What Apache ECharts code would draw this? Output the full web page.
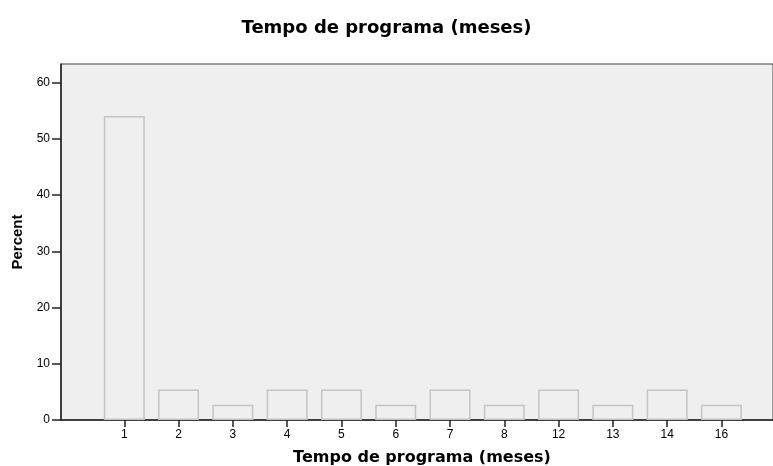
<!DOCTYPE html>
<html>
<head>
<meta charset="utf-8">
<script src="https://cdn.jsdelivr.net/npm/echarts@6/dist/echarts.min.js"></script>
<style>
  html, body { margin: 0; padding: 0; background: #fff; }
  #main { width: 773px; height: 466px; }
</style>
</head>
<body>
<div id="main"></div>
<script>
var categories = ['1', '2', '3', '4', '5', '6', '7', '8', '12', '13', '14', '16'];
var percents = [54.05, 5.41, 2.70, 5.41, 5.41, 2.70, 5.41, 2.70, 5.41, 2.70, 5.41, 2.70];
var yTicks = [0, 10, 20, 30, 40, 50, 60];

var font = '"Liberation Sans", Arial, sans-serif';
var wideFont = '"DejaVu Sans", sans-serif';

// bars sit on index positions of a value axis, so the plot keeps its wide left margin
var barData = percents.map(function (v, i) { return [i, v]; });
var tickPos = categories.map(function (c, i) { return i; });

var myChart = echarts.init(document.getElementById('main'));
var option = {
    animation: false,
    title: {
        text: 'Tempo de programa (meses)',
        left: 'center',
        top: 14,
        textStyle: { fontFamily: wideFont, fontSize: 18, fontWeight: 'bold', color: '#000' }
    },
    grid: {
        left: 61, right: 0, top: 64, bottom: 46,
        outerBoundsMode: 'none',
        containLabel: false,
        show: true,
        backgroundColor: '#efefef',
        borderColor: '#444',
        borderWidth: 1
    },
    xAxis: {
        type: 'value',
        min: -1.166,
        max: 11.95,
        name: 'Tempo de programa (meses)',
        nameLocation: 'middle',
        nameGap: 30,
        nameTextStyle: { fontFamily: wideFont, fontSize: 16, fontWeight: 'bold', color: '#000', padding: [0, 0, 0, 10] },
        splitLine: { show: false },
        axisLine: { show: true, onZero: false, lineStyle: { color: '#222', width: 1.5 } },
        axisTick: { show: true, customValues: tickPos, length: 7, inside: false, lineStyle: { color: '#222', width: 1.5 } },
        axisLabel: {
            customValues: tickPos,
            fontFamily: font, fontSize: 12, color: '#000', margin: 9,
            formatter: function (v) { return categories[Math.round(v)]; }
        }
    },
    yAxis: {
        type: 'value',
        min: 0,
        max: 63.3,
        name: 'Percent',
        nameLocation: 'middle',
        nameGap: 30,
        nameRotate: 90,
        nameTextStyle: { fontFamily: font, fontSize: 15, fontWeight: 'bold', color: '#000' },
        splitLine: { show: false },
        axisLine: { show: true, onZero: false, lineStyle: { color: '#222', width: 1.5 } },
        axisTick: { show: true, customValues: yTicks, length: 9, lineStyle: { color: '#222', width: 1.5 } },
        axisLabel: { customValues: yTicks, fontFamily: font, fontSize: 12, color: '#000', margin: 11 }
    },
    series: [{
        type: 'bar',
        data: barData,
        barWidth: 41,
        itemStyle: { color: '#efefef', borderColor: '#c4c4c4', borderWidth: 1.5 }
    }]
};
myChart.setOption(option);
</script>
</body>
</html>
